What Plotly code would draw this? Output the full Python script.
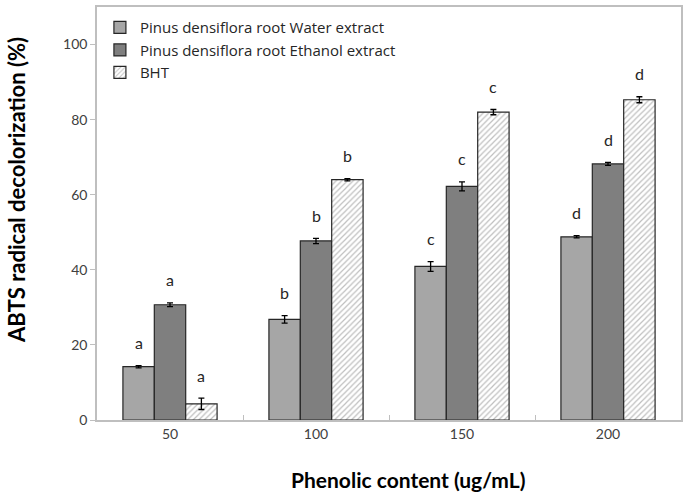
import plotly.graph_objects as go

categories = ["50", "100", "150", "200"]
series_names = ["Pinus densiflora root Water extract",
                "Pinus densiflora root Ethanol extract",
                "BHT"]
water = [14.2, 26.8, 40.9, 48.8]
water_err = [0.3, 1.0, 1.3, 0.3]
ethanol = [30.7, 47.7, 62.2, 68.2]
ethanol_err = [0.5, 0.7, 1.2, 0.4]
bht = [4.3, 64.0, 82.0, 85.3]
bht_err = [1.5, 0.3, 0.7, 0.8]
letters = ["a", "b", "c", "d"]

values = [water, ethanol, bht]
errors = [water_err, ethanol_err, bht_err]
colors = ["#a6a6a6", "#7f7f7f", "#ffffff"]

FONT = "Lato"
fig = go.Figure()
for k in range(3):
    marker = dict(color=colors[k], line=dict(color="#262626", width=1.2))
    if k == 2:
        marker["pattern"] = dict(shape="/", fgcolor="#7f7f7f", bgcolor="#ffffff",
                                 size=4, solidity=0.3)
    fig.add_trace(go.Bar(
        x=categories, y=values[k], name=series_names[k], marker=marker,
        error_y=dict(type="data", array=errors[k], color="#000000",
                     thickness=1.3, width=3),
    ))

bargap = 0.355
w = (1 - bargap) / 3
annotations = []
for k in range(3):
    for i in range(4):
        annotations.append(dict(
            x=i + (k - 1) * w, y=values[k][i] + errors[k][i], xref="x", yref="y",
            text=letters[i], showarrow=False, yshift=23, yanchor="middle",
            font=dict(family=FONT, size=16, color="#262626")))

annotations.append(dict(
    text="<b>ABTS radical decolorization (%)</b>", xref="paper", yref="paper",
    x=-0.137, y=0.557, textangle=-90, showarrow=False, xanchor="center",
    yanchor="middle", font=dict(family=FONT, size=22, color="#000000")))
annotations.append(dict(
    text="<b>Phenolic content (ug/mL)</b>", xref="paper", yref="paper",
    x=0.533, y=-0.143, showarrow=False, xanchor="center", yanchor="middle",
    font=dict(family=FONT, size=21, color="#000000")))

fig.update_layout(
    width=692, height=492,
    margin=dict(l=97, r=11, t=5, b=72),
    paper_bgcolor="white", plot_bgcolor="white",
    barmode="group", bargap=bargap, bargroupgap=0,
    font=dict(family=FONT, size=14, color="#404040"),
    showlegend=True,
    legend=dict(x=0.005, y=0.99, xanchor="left", yanchor="top",
                bgcolor="rgba(0,0,0,0)", tracegroupgap=0,
                font=dict(family="Open Sans", size=15, color="#262626"),
                itemwidth=30),
    annotations=annotations,
    xaxis=dict(type="category", showline=True, linecolor="#bfbfbf", linewidth=1.5,
               mirror=True, ticks="inside", tickson="boundaries", ticklen=5,
               tickcolor="#bfbfbf", showgrid=False,
               tickfont=dict(family=FONT, size=14, color="#404040")),
    yaxis=dict(range=[0, 110], dtick=20, showline=True, linecolor="#bfbfbf",
               linewidth=1.5, mirror=True, ticks="outside", ticklen=5,
               tickcolor="#bfbfbf", showgrid=False, zeroline=False,
               tickfont=dict(family=FONT, size=14, color="#404040")),
)

fig.write_html("out.html")
